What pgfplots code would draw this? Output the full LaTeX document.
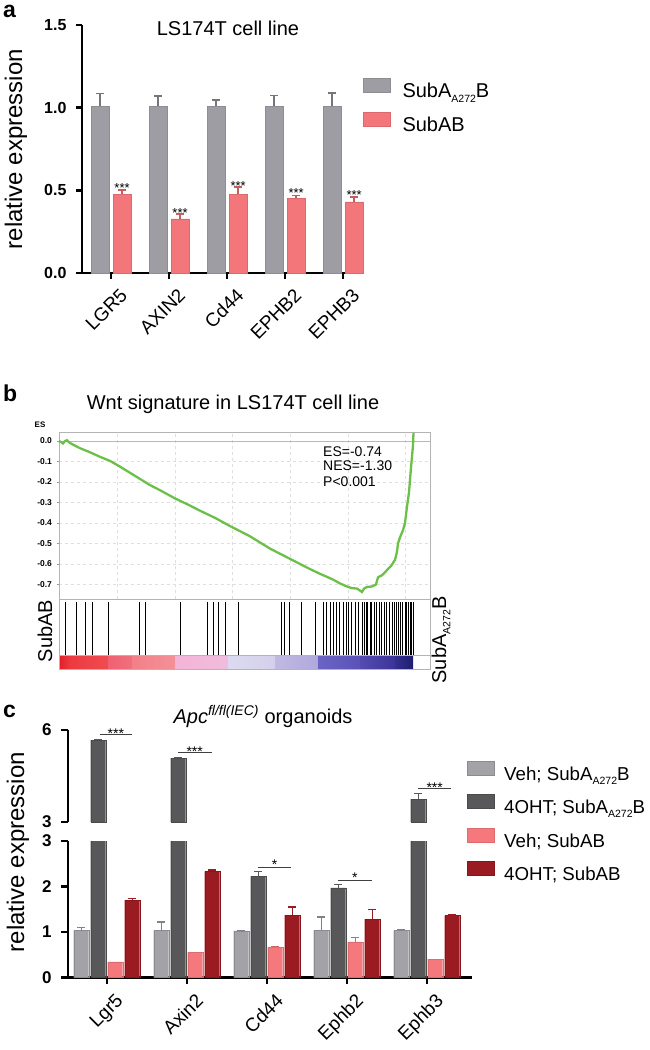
\documentclass[border=0pt]{standalone}
\usepackage{pgfplots}
\pgfplotsset{compat=1.18}
\usepackage{fontspec}
\setmainfont{Liberation Sans}
\newcommand{\fs}[1]{\fontsize{#1}{#1}\selectfont}
\newcommand{\sub}[1]{\raisebox{-0.22em}{\fs{10.5}#1}}
\definecolor{barG}{HTML}{9E9DA3}
\definecolor{barR}{HTML}{F2767A}
\definecolor{cLG}{HTML}{A3A2A7}
\definecolor{cDG}{HTML}{58585A}
\definecolor{cPK}{HTML}{F5787C}
\definecolor{cDR}{HTML}{9B1B23}
\definecolor{gsea}{HTML}{6CC04A}
\definecolor{boxg}{HTML}{B4B4B4}
\pgfplotsset{
  ebar/.style 2 args={draw=none, mark=none, forget plot,
    error bars/.cd, y dir=plus, y explicit,
    error bar style={draw=#1, line width=#2},
    error mark options={rotate=90, mark size=4pt, draw=#1, line width=#2}},
}
\begin{document}
\begin{tikzpicture}
\path[use as bounding box] (0pt,0pt) rectangle (649pt,-1050pt);

% ---------------- panel a ----------------
\node[anchor=base west, font=\fs{23}\bfseries, inner sep=0pt] at (3pt,-17pt) {a};
\node[anchor=base, font=\fs{20}, inner sep=0pt] at (228pt,-35pt) {LS174T cell line};
\node[rotate=90, font=\fs{24}, inner sep=0pt] at (16pt,-149pt) {relative expression};
\begin{axis}[
  at={(82pt,-273pt)}, anchor=south west,
  scale only axis, width=278pt, height=248pt,
  xmin=-0.5, xmax=4.29, ymin=0, ymax=1.5,
  axis lines*=left,
  axis line style={line width=2.4pt},
  tick style={black, line width=2.4pt},
  tick align=outside, major tick length=6pt,
  ytick={0,0.5,1,1.5}, yticklabels={0.0,0.5,1.0,1.5},
  yticklabel style={font=\fs{16}\bfseries, xshift=-6pt},
  xtick={0,1,2,3,4}, xticklabels={LGR5,AXIN2,Cd44,EPHB2,EPHB3},
  xticklabel style={font=\fs{19}, xshift=8pt, yshift=-8pt, rotate=45, anchor=north east, inner sep=0pt},
  clip=false,
  bar width=18pt,
  legend image code/.code={\draw[#1, line width=0.6pt] (0pt,0pt) rectangle (27pt,14pt); \path (39pt,0pt);},
  legend style={at={(1.0108,0.7843)}, anchor=north west, draw=none, fill=none, inner sep=0pt, outer sep=0pt, row sep=10pt, font=\fs{20}, nodes={inner sep=0pt, text height=14.5pt, text depth=4.5pt}},
  legend cell align=left,
]
\addplot[ybar, bar shift=-11pt, fill=barG, draw=barG!90!black]
  coordinates {(0,1.01) (1,1.01) (2,1.01) (3,1.01) (4,1.01)};
\addlegendentry{SubA\sub{A272}B}
\addplot[ebar={barG!75!black}{1.5pt}]
  coordinates {(-0.1897,1.01) +- (0,0.075) (0.8103,1.01) +- (0,0.06) (1.8103,1.01) +- (0,0.035) (2.8103,1.01) +- (0,0.065) (3.8103,1.01) +- (0,0.08)};
\addplot[ybar, bar shift=11pt, fill=barR, draw=barR!90!black]
  coordinates {(0,0.477) (1,0.327) (2,0.477) (3,0.453) (4,0.43)};
\addlegendentry{SubAB}
\addplot[ebar={barR!80!black}{1.5pt}]
  coordinates {(0.1897,0.477) +- (0,0.026) (1.1897,0.327) +- (0,0.031) (2.1897,0.477) +- (0,0.042) (3.1897,0.453) +- (0,0.015) (4.1897,0.43) +- (0,0.03)};
\node[font=\fs{13}] at (axis cs:0.19,0.515) {***};
\node[font=\fs{13}] at (axis cs:1.19,0.362) {***};
\node[font=\fs{13}] at (axis cs:2.19,0.529) {***};
\node[font=\fs{13}] at (axis cs:3.19,0.485) {***};
\node[font=\fs{13}] at (axis cs:4.19,0.472) {***};
\end{axis}

% ---------------- panel b ----------------
\node[anchor=base west, font=\fs{23}\bfseries, inner sep=0pt] at (3pt,-401.7pt) {b};
\node[anchor=base, font=\fs{20}, inner sep=0pt] at (233pt,-409pt) {Wnt signature in LS174T cell line};
\node[font=\fs{8}\bfseries, inner sep=0pt] at (40pt,-425pt) {ES};
\node[rotate=90, font=\fs{20}, inner sep=0pt] at (45pt,-631pt) {SubAB};
\node[rotate=90, font=\fs{20}, inner sep=0pt] at (441pt,-640pt) {SubA\sub{A272}B};
\begin{axis}[
  at={(59pt,-599pt)}, anchor=south west,
  scale only axis, width=371pt, height=167pt,
  xmin=59, xmax=430, ymin=-0.771, ymax=0.044,
  axis line style={boxg, line width=0.8pt},
  xtick={117,175,232,290,348,405}, xticklabels={},
  xtick style={draw=none},
  xmajorgrids, ymajorgrids,
  grid style={dashed, gray!25, line width=0.5pt},
  ytick={-0.7,-0.6,-0.5,-0.4,-0.3,-0.2,-0.1,0},
  yticklabels={-0.7,-0.6,-0.5,-0.4,-0.3,-0.2,-0.1,0.0},
  yticklabel style={font=\fs{8.5}\bfseries, xshift=-1pt},
  ytick pos=left, xtick pos=bottom,
  ytick style={gray!80, line width=0.6pt},
  major tick length=2.5pt, tick align=outside,
  clip=false,
]
\addplot[gray!55, line width=0.8pt] coordinates {(59,0) (430,0)};
\addplot[gsea, line width=2.3pt] coordinates {
(59,0) (61,-0.005) (63,-0.012) (65,0.0) (67,0.004) (69,-0.006) (72,-0.015) (76,-0.025) (80,-0.035)
(90,-0.055) (100,-0.077) (110,-0.097) (120,-0.125) (130,-0.155) (140,-0.185) (150,-0.215)
(160,-0.24) (175,-0.28) (190,-0.315) (200,-0.34) (215,-0.375) (230,-0.415) (250,-0.465)
(270,-0.525) (290,-0.575) (300,-0.60) (310,-0.625) (320,-0.648) (333,-0.676) (340,-0.695)
(347,-0.71) (352,-0.718) (357,-0.72) (360,-0.73) (362,-0.737) (364,-0.72) (367,-0.712)
(372,-0.71) (376,-0.70) (378,-0.665) (382,-0.655) (387,-0.63) (391,-0.61) (395,-0.58)
(397,-0.54) (398,-0.50) (400,-0.47) (403,-0.435) (405,-0.40) (407,-0.32) (409,-0.25)
(410,-0.19) (411,-0.13) (412,-0.077) (413,-0.02) (413.5,0.04)};
\node[anchor=west, font=\fs{14}, inner sep=0pt] at (axis cs:323,-0.052) {ES=-0.74};
\node[anchor=west, font=\fs{14}, inner sep=0pt] at (axis cs:323,-0.122) {NES=-1.30};
\node[anchor=west, font=\fs{14}, inner sep=0pt] at (axis cs:323,-0.199) {P<0.001};
\end{axis}
\begin{axis}[
  at={(59pt,-655pt)}, anchor=south west,
  scale only axis, width=371pt, height=56pt,
  xmin=59, xmax=430, ymin=0, ymax=1,
  axis line style={boxg, line width=0.8pt},
  ticks=none,
]
\addplot[ycomb, black, line width=1pt, mark=none] coordinates {
(65.7,0.95) (76.7,0.95) (85,0.95) (92.7,0.95) (108.7,0.95) (139,0.95) (145.7,0.95) (180.3,0.95)
(207,0.95) (213.3,0.95) (218.7,0.95) (225.7,0.95) (238.3,0.95) (281,0.95) (284,0.95) (289.3,0.95)
(301.5,0.95) (315.7,0.95) (323.3,0.95) (326.7,0.95) (330,0.95) (333.3,0.95) (336,0.95) (339.3,0.95)
(343.3,0.95) (346,0.95) (348.3,0.95) (351.7,0.95) (355,0.95) (358.3,0.95) (362.7,0.95) (364.3,0.95)
(366,0.95) (367.7,0.95) (370,0.95) (371.7,0.95) (374,0.95) (376.7,0.95) (379,0.95) (381.7,0.95)
(384.3,0.95) (386.7,0.95) (389.3,0.95) (392.3,0.95) (394,0.95) (396.7,0.95) (398.3,0.95) (400.7,0.95)
(402.7,0.95) (405,0.95) (406.7,0.95) (408.3,0.95) (410,0.95) (411.7,0.95) (413,0.95)};
\end{axis}
\begin{axis}[
  at={(59pt,-669pt)}, anchor=south west,
  scale only axis, width=371pt, height=14pt,
  xmin=59, xmax=430, ymin=0, ymax=1,
  axis line style={boxg, line width=0.8pt},
  ticks=none, axis on top,
]
\addplot[draw=none, left color={rgb,255:red,226;green,30;blue,40}, right color={rgb,255:red,236;green,58;blue,64}] coordinates {(59,1) (70,1)} \closedcycle;
\addplot[draw=none, left color={rgb,255:red,236;green,58;blue,64}, right color={rgb,255:red,238;green,76;blue,82}] coordinates {(70,1) (108,1)} \closedcycle;
\addplot[draw=none, left color={rgb,255:red,240;green,96;blue,112}, right color={rgb,255:red,240;green,112;blue,126}] coordinates {(108,1) (132,1)} \closedcycle;
\addplot[draw=none, left color={rgb,255:red,242;green,128;blue,136}, right color={rgb,255:red,244;green,144;blue,152}] coordinates {(132,1) (175,1)} \closedcycle;
\addplot[draw=none, left color={rgb,255:red,244;green,180;blue,216}, right color={rgb,255:red,240;green,188;blue,220}] coordinates {(175,1) (228,1)} \closedcycle;
\addplot[draw=none, left color={rgb,255:red,220;green,218;blue,240}, right color={rgb,255:red,212;green,208;blue,236}] coordinates {(228,1) (275,1)} \closedcycle;
\addplot[draw=none, left color={rgb,255:red,192;green,186;blue,226}, right color={rgb,255:red,176;green,168;blue,220}] coordinates {(275,1) (318,1)} \closedcycle;
\addplot[draw=none, left color={rgb,255:red,108;green,100;blue,196}, right color={rgb,255:red,90;green,82;blue,184}] coordinates {(318,1) (360,1)} \closedcycle;
\addplot[draw=none, left color={rgb,255:red,84;green,76;blue,176}, right color={rgb,255:red,60;green,52;blue,152}] coordinates {(360,1) (395,1)} \closedcycle;
\addplot[draw=none, left color={rgb,255:red,52;green,48;blue,144}, right color={rgb,255:red,30;green,30;blue,112}] coordinates {(395,1) (413,1)} \closedcycle;
\end{axis}

% ---------------- panel c ----------------
\node[anchor=base west, font=\fs{23}\bfseries, inner sep=0pt] at (3pt,-717pt) {c};
\node[anchor=base, font=\fs{20}, inner sep=0pt] at (263pt,-723pt) {\itshape Apc\textsuperscript{fl/fl(IEC)}\upshape\ organoids};
\node[rotate=90, font=\fs{24}, inner sep=0pt] at (18pt,-852pt) {relative expression};
\begin{axis}[
  at={(68pt,-822pt)}, anchor=south west,
  scale only axis, width=404pt, height=92pt,
  xmin=-0.484, xmax=4.566, ymin=3, ymax=6,
  axis y line*=left, axis x line=none,
  axis line style={line width=2.4pt},
  tick style={black, line width=2.4pt},
  tick align=outside, major tick length=7pt,
  ytick={3,6}, yticklabels={3,6},
  yticklabel style={font=\fs{17}\bfseries, xshift=-6pt},
  clip mode=individual,
  bar width=15pt,
]
\addplot[ybar, bar shift=-8.5pt, fill=cDG, draw=cDG!85!black]
  coordinates {(0,5.67) (1,5.08) (4,3.75)};
\addplot[ebar={cDG}{1.3pt}]
  coordinates {(-0.1063,5.67) +- (0,0.02) (0.8937,5.08) +- (0,0.03) (3.8937,3.75) +- (0,0.19)};
\addplot[black!75, line width=1pt] coordinates {(-0.084,5.84) (0.3125,5.84)};
\addplot[black!75, line width=1pt] coordinates {(0.891,5.26) (1.3125,5.26)};
\addplot[black!75, line width=1pt] coordinates {(3.89,4.10) (4.30,4.10)};
\node[font=\fs{14}] at (axis cs:0.114,5.87) {***};
\node[font=\fs{14}] at (axis cs:1.10,5.29) {***};
\node[font=\fs{14}] at (axis cs:4.10,4.13) {***};
\end{axis}
\begin{axis}[
  at={(68pt,-977.3pt)}, anchor=south west,
  scale only axis, width=404pt, height=136.3pt,
  xmin=-0.484, xmax=4.566, ymin=0, ymax=3,
  axis lines*=left,
  axis line style={line width=2.4pt},
  tick style={black, line width=2.4pt},
  tick align=outside, major tick length=7pt,
  ytick={0,1,2,3}, yticklabels={0,1,2,3},
  yticklabel style={font=\fs{17}\bfseries, xshift=-6pt},
  xtick={0,1,2,3,4}, xticklabels={Lgr5,Axin2,Cd44,Ephb2,Ephb3},
  xticklabel style={font=\fs{19}, xshift=8pt, yshift=-8pt, rotate=45, anchor=north east, inner sep=0pt},
  clip mode=individual,
  bar width=15pt,
  legend image code/.code={\draw[#1, line width=0.6pt] (0pt,0pt) rectangle (27pt,14pt); \path (37pt,0pt);},
  legend style={at={(0.9869,1.5884)}, anchor=north west, draw=none, fill=none, inner sep=0pt, outer sep=0pt, row sep=9.7pt, font=\fs{18.7}, nodes={inner sep=0pt, text height=14.5pt, text depth=4.5pt}},
  legend cell align=left,
]
\addplot[ybar, bar shift=-25.5pt, fill=cLG, draw=cLG!85!black]
  coordinates {(0,1.03) (1,1.03) (2,1.02) (3,1.04) (4,1.03)};
\addlegendentry{Veh; SubA\sub{A272}B}
\addplot[ebar={cLG!80!black}{1.3pt}]
  coordinates {(-0.3188,1.03) +- (0,0.07) (0.6812,1.03) +- (0,0.19) (1.6812,1.02) +- (0,0.01) (2.6812,1.04) +- (0,0.29) (3.6812,1.03) +- (0,0.02)};
\addplot[ybar, bar shift=-8.5pt, fill=cDG, draw=cDG!85!black]
  coordinates {(0,5.67) (1,5.08) (2,2.22) (3,1.97) (4,3.75)};
\addlegendentry{4OHT; SubA\sub{A272}B}
\addplot[ebar={cDG}{1.3pt}]
  coordinates {(1.8937,2.22) +- (0,0.11) (2.8937,1.97) +- (0,0.08)};
\addplot[ybar, bar shift=8.5pt, fill=cPK, draw=cPK!90!black]
  coordinates {(0,0.34) (1,0.55) (2,0.66) (3,0.78) (4,0.40)};
\addlegendentry{Veh; SubAB}
\addplot[ebar={cPK!85!black}{1.3pt}]
  coordinates {(2.1063,0.66) +- (0,0.02) (3.1063,0.78) +- (0,0.09)};
\addplot[ybar, bar shift=25.5pt, fill=cDR, draw=cDR!85!black]
  coordinates {(0,1.70) (1,2.33) (2,1.37) (3,1.28) (4,1.36)};
\addlegendentry{4OHT; SubAB}
\addplot[ebar={cDR}{1.3pt}]
  coordinates {(0.3188,1.70) +- (0,0.03) (1.3188,2.33) +- (0,0.03) (2.3188,1.37) +- (0,0.18) (3.3188,1.28) +- (0,0.22) (4.3188,1.36) +- (0,0.01)};
\addplot[black!75, line width=1pt, forget plot] coordinates {(1.891,2.42) (2.304,2.42)};
\addplot[black!75, line width=1pt, forget plot] coordinates {(2.89,2.14) (3.31,2.14)};
\node[font=\fs{14}] at (axis cs:2.10,2.47) {*};
\node[font=\fs{14}] at (axis cs:3.10,2.19) {*};
\end{axis}
\end{tikzpicture}
\end{document}
